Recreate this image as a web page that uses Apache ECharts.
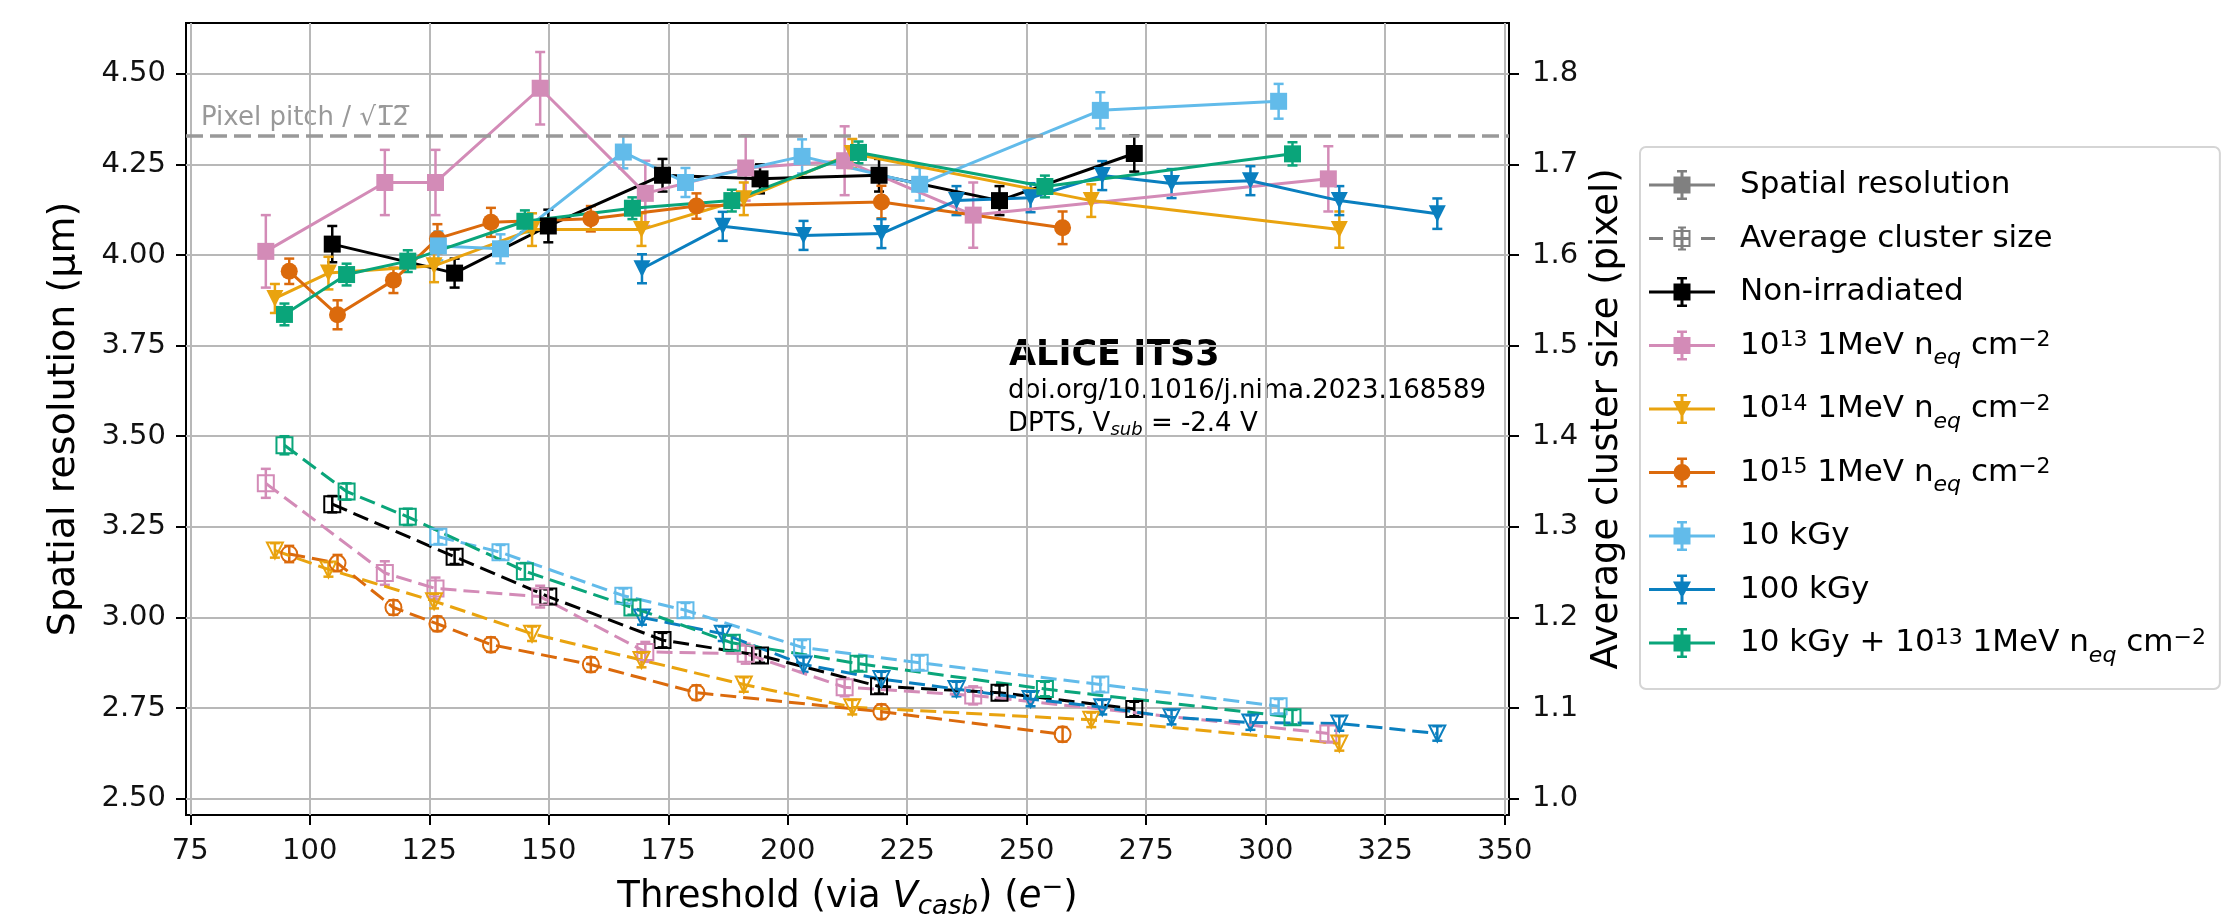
<!DOCTYPE html>
<html>
<head>
<meta charset="utf-8">
<title>DPTS spatial resolution vs threshold</title>
<script src="https://cdn.jsdelivr.net/npm/echarts@6/dist/echarts.min.js"></script>
<style>
    html, body { margin: 0; padding: 0; background: #fff; }
    #main { width: 2229px; height: 918px; }
</style>
</head>
<body>
<div id="main"></div>
<script>
// axis ticks
var xTicks = [75, 100, 125, 150, 175, 200, 225, 250, 275, 300, 325, 350];
var resTicks = [2.5, 2.75, 3.0, 3.25, 3.5, 3.75, 4.0, 4.25, 4.5];
var sizeTicks = [1.0, 1.1, 1.2, 1.3, 1.4, 1.5, 1.6, 1.7, 1.8];

// pixel pitch (um), the dashed reference line is pitch / sqrt(12)
var pixelPitch = 15;

// Non-irradiated
var nonIrrThr = [104.7, 130.3, 149.9, 173.8, 194.2, 219.1, 244.3, 272.5];
var nonIrrRes = [4.03, 3.95, 4.08, 4.22, 4.21, 4.22, 4.15, 4.28];
var nonIrrResErr = [0.05, 0.04, 0.045, 0.045, 0.04, 0.045, 0.04, 0.05];
var nonIrrSize = [1.325, 1.267, 1.223, 1.175, 1.158, 1.124, 1.117, 1.099];
var nonIrrSizeErr = [0.009, 0.008, 0.008, 0.008, 0.008, 0.008, 0.008, 0.008];

// 1e13 1MeV neq cm-2
var n13Thr = [90.8, 115.7, 126.3, 148.2, 170.2, 191.2, 211.9, 238.8, 313.1];
var n13Res = [4.01, 4.20, 4.20, 4.46, 4.17, 4.24, 4.26, 4.11, 4.21];
var n13ResErr = [0.10, 0.09, 0.09, 0.10, 0.09, 0.09, 0.095, 0.09, 0.09];
var n13Size = [1.348, 1.249, 1.232, 1.223, 1.162, 1.16, 1.123, 1.114, 1.072];
var n13SizeErr = [0.016, 0.013, 0.012, 0.012, 0.011, 0.011, 0.01, 0.01, 0.01];

// 1e14 1MeV neq cm-2
var n14Thr = [92.7, 103.9, 126.0, 146.5, 169.4, 190.8, 213.5, 263.5, 315.4];
var n14Res = [3.88, 3.95, 3.97, 4.07, 4.07, 4.155, 4.28, 4.15, 4.07];
var n14ResErr = [0.04, 0.045, 0.045, 0.045, 0.045, 0.045, 0.04, 0.045, 0.05];
var n14Size = [1.274, 1.253, 1.218, 1.182, 1.153, 1.126, 1.101, 1.087, 1.061];
var n14SizeErr = [0.008, 0.008, 0.008, 0.008, 0.008, 0.008, 0.008, 0.008, 0.008];

// 1e15 1MeV neq cm-2
var n15Thr = [95.7, 105.8, 117.5, 126.7, 137.9, 158.8, 180.9, 219.6, 257.5];
var n15Res = [3.955, 3.835, 3.93, 4.045, 4.09, 4.10, 4.135, 4.146, 4.075];
var n15ResErr = [0.035, 0.04, 0.035, 0.04, 0.04, 0.035, 0.035, 0.045, 0.045];
var n15Size = [1.27, 1.26, 1.211, 1.193, 1.17, 1.148, 1.117, 1.096, 1.071];
var n15SizeErr = [0.009, 0.009, 0.008, 0.008, 0.008, 0.008, 0.008, 0.008, 0.008];

// 10 kGy
var kGy10Thr = [126.9, 139.9, 165.6, 178.6, 203.0, 227.6, 265.4, 302.7];
var kGy10Res = [4.025, 4.017, 4.284, 4.20, 4.272, 4.195, 4.399, 4.424];
var kGy10ResErr = [0.04, 0.04, 0.045, 0.04, 0.047, 0.045, 0.05, 0.048];
var kGy10Size = [1.289, 1.272, 1.224, 1.208, 1.167, 1.15, 1.126, 1.102];
var kGy10SizeErr = [0.008, 0.008, 0.008, 0.008, 0.008, 0.008, 0.008, 0.008];

// 100 kGy
var kGy100Thr = [169.5, 186.4, 203.3, 219.6, 235.3, 250.8, 265.8, 280.3, 296.8, 315.4, 335.9];
var kGy100Res = [3.962, 4.079, 4.054, 4.059, 4.15, 4.158, 4.219, 4.197, 4.205, 4.15, 4.114];
var kGy100ResErr = [0.04, 0.04, 0.04, 0.04, 0.04, 0.04, 0.04, 0.04, 0.04, 0.04, 0.042];
var kGy100Size = [1.2, 1.182, 1.148, 1.132, 1.121, 1.11, 1.101, 1.09, 1.084, 1.083, 1.072];
var kGy100SizeErr = [0.008, 0.008, 0.008, 0.008, 0.008, 0.008, 0.008, 0.008, 0.008, 0.008, 0.008];

// 10 kGy + 1e13 1MeV neq cm-2
var mixThr = [94.7, 107.7, 120.5, 145.0, 167.5, 188.3, 214.8, 253.8, 305.6];
var mixRes = [3.836, 3.946, 3.983, 4.093, 4.129, 4.15, 4.283, 4.189, 4.279];
var mixResErr = [0.03, 0.03, 0.03, 0.03, 0.03, 0.03, 0.03, 0.03, 0.032];
var mixSize = [1.39, 1.339, 1.311, 1.251, 1.211, 1.172, 1.149, 1.121, 1.09];
var mixSizeErr = [0.01, 0.009, 0.009, 0.009, 0.008, 0.008, 0.008, 0.008, 0.008];

var FONT = 'DejaVu Sans';

var samples = [
    { name: 'Non-irradiated', color: '#000000', marker: 'square',
      thr: nonIrrThr, res: nonIrrRes, resErr: nonIrrResErr, size: nonIrrSize, sizeErr: nonIrrSizeErr },
    { name: '10^13 1MeV neq cm^-2', color: '#d38bb7', marker: 'square',
      thr: n13Thr, res: n13Res, resErr: n13ResErr, size: n13Size, sizeErr: n13SizeErr },
    { name: '10^14 1MeV neq cm^-2', color: '#e9a30f', marker: 'down',
      thr: n14Thr, res: n14Res, resErr: n14ResErr, size: n14Size, sizeErr: n14SizeErr },
    { name: '10^15 1MeV neq cm^-2', color: '#db6a0c', marker: 'circle',
      thr: n15Thr, res: n15Res, resErr: n15ResErr, size: n15Size, sizeErr: n15SizeErr },
    { name: '10 kGy', color: '#62bbea', marker: 'square',
      thr: kGy10Thr, res: kGy10Res, resErr: kGy10ResErr, size: kGy10Size, sizeErr: kGy10SizeErr },
    { name: '100 kGy', color: '#0a7fbf', marker: 'down',
      thr: kGy100Thr, res: kGy100Res, resErr: kGy100ResErr, size: kGy100Size, sizeErr: kGy100SizeErr },
    { name: '10 kGy + 10^13 1MeV neq cm^-2', color: '#0aa57a', marker: 'square',
      thr: mixThr, res: mixRes, resErr: mixResErr, size: mixSize, sizeErr: mixSizeErr }
];

// legend text with super/subscripts
var legendLabels = {
    '10^13 1MeV neq cm^-2': '10{sup|13} 1MeV n{sub|eq} cm{sup|−2}',
    '10^14 1MeV neq cm^-2': '10{sup|14} 1MeV n{sub|eq} cm{sup|−2}',
    '10^15 1MeV neq cm^-2': '10{sup|15} 1MeV n{sub|eq} cm{sup|−2}',
    '10 kGy + 10^13 1MeV neq cm^-2': '10 kGy + 10{sup|13} 1MeV n{sub|eq} cm{sup|−2}'
};

// legend icons, drawn in a 66 x 30 box: line + error bar + marker (all clockwise)
var ICON_BASE = 'M0,13.5H66V16.5H0Z M31.5,0H34.5V30H31.5Z M28,0H38V2.5H28Z M28,27.5H38V30H28Z ';
var ICON_MARK = {
    square: 'M24.5,6.5H41.5V23.5H24.5Z',
    down: 'M24,7H42L33,24Z',
    circle: 'M24.5,15A8.5,8.5,0,1,1,41.5,15A8.5,8.5,0,1,1,24.5,15Z'
};
var ICON_SIZE = 'M0,13.5H14V16.5H0Z M52,13.5H66V16.5H52Z ' +
    'M24.5,6.5H41.5V23.5H24.5Z M26.5,8.5V21.5H39.5V8.5Z ' +
    'M24.5,13.5H41.5V16.5H24.5Z M31.5,3H34.5V27H31.5Z M29,3H37V5H29Z M29,25H37V27H29Z';

function pairs(xs, ys, es) {
    var out = [];
    for (var i = 0; i < xs.length; i++) {
        out.push(es ? [xs[i], ys[i], es[i]] : [xs[i], ys[i]]);
    }
    return out;
}

function errorBars(params, api) {
    var x = api.value(0), y = api.value(1), e = api.value(2);
    var hi = api.coord([x, y + e]);
    var lo = api.coord([x, y - e]);
    var cap = 5;
    var c = api.visual('color');
    return {
        type: 'group',
        children: [
            { type: 'line', shape: { x1: hi[0], y1: hi[1], x2: lo[0], y2: lo[1] }, style: { stroke: c, lineWidth: 2.5 } },
            { type: 'line', shape: { x1: hi[0] - cap, y1: hi[1], x2: hi[0] + cap, y2: hi[1] }, style: { stroke: c, lineWidth: 2.5 } },
            { type: 'line', shape: { x1: lo[0] - cap, y1: lo[1], x2: lo[0] + cap, y2: lo[1] }, style: { stroke: c, lineWidth: 2.5 } }
        ]
    };
}

function symbolOf(marker) {
    if (marker === 'down') return 'triangle';
    if (marker === 'circle') return 'circle';
    return 'rect';
}

var series = [];
// dummy entries for the two style items of the legend
series.push({ type: 'line', name: 'Spatial resolution', data: [], yAxisIndex: 0,
    markLine: {
        silent: true, symbol: 'none', label: { show: false },
        lineStyle: { color: '#999999', width: 3.5, type: [17, 7] },
        data: [{ yAxis: pixelPitch / Math.sqrt(12) }]
    }
});
series.push({ type: 'line', name: 'Average cluster size', data: [], yAxisIndex: 1 });

// spatial resolution (left axis, solid lines)
samples.forEach(function(s) {
    series.push({
        type: 'custom', name: s.name, yAxisIndex: 0, renderItem: errorBars,
        itemStyle: { color: s.color, borderWidth: 0 },
        data: pairs(s.thr, s.res, s.resErr)
    });
    series.push({
        type: 'line', name: s.name, yAxisIndex: 0,
        symbol: symbolOf(s.marker), symbolRotate: s.marker === 'down' ? 180 : 0, symbolSize: 17,
        itemStyle: { color: s.color },
        lineStyle: { color: s.color, width: 3 },
        data: pairs(s.thr, s.res)
    });
});

// average cluster size (right axis, dashed lines, open markers)
samples.forEach(function(s) {
    series.push({
        type: 'custom', name: s.name, yAxisIndex: 1, renderItem: errorBars,
        itemStyle: { color: s.color, borderWidth: 0 },
        data: pairs(s.thr, s.size, s.sizeErr)
    });
    series.push({
        type: 'line', name: s.name, yAxisIndex: 1,
        symbol: symbolOf(s.marker), symbolRotate: s.marker === 'down' ? 180 : 0, symbolSize: 16,
        itemStyle: { color: 'rgba(255,255,255,0)', borderColor: s.color, borderWidth: 2 },
        lineStyle: { color: s.color, width: 3, type: [16, 7] },
        data: pairs(s.thr, s.size)
    });
});

var legendData = [
    { name: 'Spatial resolution', icon: 'path://' + ICON_BASE + ICON_MARK.square, itemStyle: { color: '#808080', borderWidth: 0 } },
    { name: 'Average cluster size', icon: 'path://' + ICON_SIZE, itemStyle: { color: '#808080', borderWidth: 0 } }
];
samples.forEach(function(s) {
    legendData.push({ name: s.name, icon: 'path://' + ICON_BASE + ICON_MARK[s.marker],
        itemStyle: { color: s.color, borderWidth: 0 } });
});

var tickFont = { fontFamily: FONT, fontSize: 29, color: '#111' };

var option = {
    animation: false,
    backgroundColor: '#fff',
    grid: { left: 186, right: 720, top: 23, bottom: 103, outerBoundsMode: 'none',
        show: true, borderColor: '#000', borderWidth: 2 },
    xAxis: {
        type: 'value', min: 74.1, max: 350.9,
        name: 'Threshold (via {v|V}{vs|casb}) ({v|e}{sp|−})',
        nameLocation: 'middle', nameGap: 60,
        nameTextStyle: {
            fontFamily: FONT, fontSize: 37, color: '#000', lineHeight: 44,
            rich: {
                v: { fontFamily: FONT, fontSize: 37, fontStyle: 'italic', lineHeight: 44 },
                vs: { fontFamily: FONT, fontSize: 26, fontStyle: 'italic', lineHeight: 26, verticalAlign: 'top', padding: [19, 0, 0, 0] },
                sp: { fontFamily: FONT, fontSize: 26, lineHeight: 26, verticalAlign: 'top', padding: [0, 0, 0, 0] }
            }
        },
        axisLine: { show: false },
        axisTick: { length: 10, lineStyle: { color: '#000', width: 2 }, customValues: xTicks },
        axisLabel: Object.assign({ margin: 22, customValues: xTicks }, tickFont),
        splitLine: { show: true, lineStyle: { color: '#b8b8b8', width: 2 } }
    },
    yAxis: [{
        type: 'value', min: 2.455, max: 4.64, position: 'left',
        name: 'Spatial resolution (μm)', nameLocation: 'middle', nameGap: 103,
        nameTextStyle: { fontFamily: FONT, fontSize: 38, color: '#000' },
        axisLine: { show: false },
        axisTick: { length: 10, lineStyle: { color: '#000', width: 2 }, customValues: resTicks },
        axisLabel: Object.assign({ margin: 20, customValues: resTicks,
            formatter: function(v) { return v.toFixed(2); } }, tickFont),
        splitLine: { show: true, lineStyle: { color: '#b8b8b8', width: 2 } }
    }, {
        type: 'value', min: 0.982, max: 1.856, position: 'right',
        name: 'Average cluster size (pixel)', nameLocation: 'middle', nameGap: 76,
        nameTextStyle: { fontFamily: FONT, fontSize: 37, color: '#000' },
        axisLine: { show: false },
        axisTick: { length: 10, lineStyle: { color: '#000', width: 2 }, customValues: sizeTicks },
        axisLabel: Object.assign({ margin: 23, customValues: sizeTicks,
            formatter: function(v) { return v.toFixed(1); } }, tickFont),
        splitLine: { show: false }
    }],
    legend: {
        orient: 'vertical', left: 1640, top: 147,
        padding: [20, 14, 18, 9],
        itemWidth: 66, itemHeight: 30, itemGap: 17.5,
        selectedMode: false,
        backgroundColor: '#fff', borderColor: '#d5d5d5', borderWidth: 2, borderRadius: 6,
        textStyle: {
            fontFamily: FONT, fontSize: 31, color: '#000', lineHeight: 36,
            rich: {
                g: { width: 20 },
                sup: { fontFamily: FONT, fontSize: 22, lineHeight: 22, verticalAlign: 'top', padding: [2, 0, 0, 0] },
                sub: { fontFamily: FONT, fontSize: 22, fontStyle: 'italic', lineHeight: 22, verticalAlign: 'top', padding: [20, 0, 4, 0] }
            }
        },
        formatter: function(name) {
            return '{g| }' + (legendLabels[name] || name);
        },
        data: legendData
    },
    graphic: [
        { type: 'text', x: 201, y: 118, silent: true,
          style: { text: 'Pixel pitch / √1̅2̅', fontFamily: FONT, fontSize: 26, fill: '#999999', verticalAlign: 'middle' } },
        { type: 'text', x: 1009, y: 356, silent: true,
          style: { text: 'ALICE ITS3', fontFamily: FONT, fontSize: 35, fontWeight: 'bold', fill: '#000', verticalAlign: 'middle' } },
        { type: 'text', x: 1008, y: 391, silent: true,
          style: { text: 'doi.org/10.1016/j.nima.2023.168589', fontFamily: FONT, fontSize: 26, fill: '#000', verticalAlign: 'middle' } },
        { type: 'text', x: 1008, y: 424, silent: true,
          style: {
              text: 'DPTS, V{s|sub} = -2.4 V', fontFamily: FONT, fontSize: 26, fill: '#000', lineHeight: 32, verticalAlign: 'middle',
              rich: { s: { fontFamily: FONT, fontSize: 18, fontStyle: 'italic', lineHeight: 18, verticalAlign: 'top', padding: [13, 0, 1, 0] } }
          } }
    ],
    series: series
};

var myChart = echarts.init(document.getElementById('main'));
myChart.setOption(option);
</script>
</body>
</html>
